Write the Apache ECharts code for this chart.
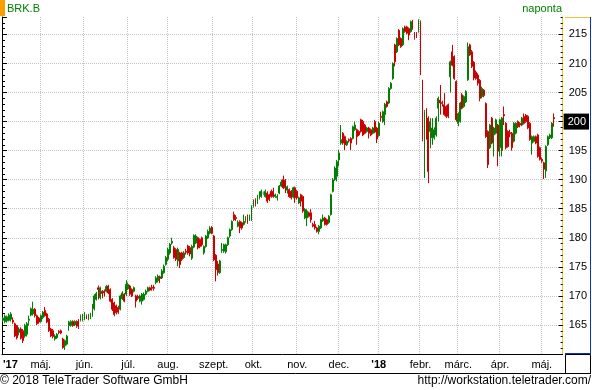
<!DOCTYPE html>
<html><head><meta charset="utf-8">
<script src="https://cdn.jsdelivr.net/npm/echarts@6/dist/echarts.min.js"></script>
<style>html,body{margin:0;padding:0;background:#fff}#c{width:592px;height:390px}</style>
</head><body><div id="c"></div>
<script>
// Daily OHLC, BRK.B, 3 Apr 2017 .. 9 May 2018 (one entry per trading day)
const opens = [
165.8,165.6,165.7,165.8,166.0,165.8,165.2,164.9,163.7,164.3,
164.0,163.1,163.4,165.8,166.7,166.9,167.7,166.6,166.2,165.6,
166.3,167.5,166.9,166.0,164.3,164.0,162.6,162.8,163.9,164.0,
162.6,161.4,161.7,164.9,164.9,165.6,165.0,165.6,165.8,165.8,
165.8,166.0,166.6,166.0,166.2,166.6,167.8,169.4,171.4,169.7,
170.8,170.8,170.8,171.7,171.1,169.4,168.8,168.3,168.0,167.7,
169.5,170.3,170.3,171.2,171.7,171.1,170.8,170.0,169.9,169.1,
169.1,169.4,170.3,170.8,171.4,171.5,171.5,172.3,172.6,173.3,
173.1,174.0,175.4,176.3,177.4,179.1,178.3,178.0,176.0,177.4,
177.4,176.6,177.7,178.6,178.3,176.5,178.4,179.1,180.0,179.7,
180.0,177.4,178.5,180.0,180.8,181.8,180.3,177.0,175.5,174.0,
177.8,177.7,177.6,178.8,180.3,181.4,184.0,183.5,182.0,182.8,
182.6,182.3,182.8,183.7,183.1,183.1,185.4,186.6,186.0,186.8,
187.1,187.7,187.1,187.7,187.4,188.0,188.0,187.1,186.9,187.7,
188.9,190.0,189.9,188.2,188.3,188.0,187.0,188.6,188.0,186.0,
187.4,187.1,183.4,183.4,184.3,184.3,182.3,182.3,181.7,181.1,
181.7,182.9,183.4,183.1,182.6,184.0,188.0,190.0,190.6,193.4,
196.3,198.0,197.4,196.0,196.9,197.1,197.1,198.6,198.6,198.3,
200.3,200.0,199.4,198.3,198.9,198.6,198.0,200.0,198.9,197.6,
200.9,200.0,201.2,203.4,203.2,205.7,207.4,213.2,212.0,215.7,
214.3,213.2,216.3,216.3,216.0,215.5,217.3,215.2,215.2,215.5,
217.2,205.4,193.1,202.0,200.6,198.3,197.2,197.2,197.7,202.3,
203.7,203.3,202.9,202.6,202.9,207.7,212.0,211.2,206.9,199.7,
200.0,204.6,202.6,203.4,207.2,213.2,212.0,210.2,208.5,208.0,
207.1,204.3,205.4,203.1,198.3,195.5,200.6,197.7,198.0,199.4,
195.5,195.0,201.2,199.7,198.3,198.1,198.0,196.6,198.0,200.0,
199.7,199.4,200.9,201.1,200.9,199.7,196.3,196.6,197.4,197.7,
195.5,193.5,192.9,191.5,196.0,197.2,197.2,200.7
];
const closes = [
166.2,166.5,166.4,166.7,166.9,165.5,163.1,162.8,164.3,162.7,
162.3,164.9,165.2,166.0,167.8,167.7,166.6,165.2,165.5,166.6,
167.2,166.6,165.5,164.0,163.1,163.0,163.1,163.4,163.7,163.6,
161.1,162.3,163.1,165.5,165.6,164.9,165.6,164.8,164.6,166.6,
166.7,166.9,166.2,166.7,166.9,168.4,170.0,170.4,171.1,171.4,
170.4,170.5,171.6,170.5,169.1,167.7,166.8,167.1,167.2,170.0,
170.5,169.1,172.0,172.0,170.3,170.0,171.4,169.1,169.6,170.0,
170.3,170.3,170.8,171.4,171.0,171.3,171.3,173.1,173.4,173.0,
174.3,175.1,176.6,178.0,178.9,179.4,176.6,176.3,178.0,175.4,
176.3,177.4,177.5,177.4,177.2,178.5,180.4,180.3,178.3,178.5,
178.8,178.5,180.3,181.1,181.7,180.8,176.2,174.5,174.0,176.0,
178.0,178.8,178.8,180.0,181.4,182.8,183.1,183.3,182.7,181.7,
181.7,182.8,183.4,182.6,183.7,185.4,186.3,185.7,187.1,187.7,
188.0,187.7,188.0,186.3,186.6,187.1,187.1,187.4,187.1,188.9,
189.6,188.6,188.6,188.8,187.1,186.9,188.6,186.9,186.9,186.9,
186.3,184.6,184.9,184.6,183.7,183.1,182.0,181.7,181.1,182.0,
183.1,183.4,182.3,182.3,183.7,187.4,190.0,192.0,193.1,194.6,
196.9,196.3,196.0,196.6,196.7,196.3,199.1,199.4,197.4,197.7,
198.3,197.7,198.0,198.9,198.0,197.7,198.9,198.2,197.0,199.7,
200.7,201.7,203.0,202.6,205.7,206.6,210.0,210.3,214.3,213.2,
212.9,216.0,215.5,215.2,214.9,217.2,216.0,214.3,214.6,217.3,
209.2,196.9,201.7,197.2,191.4,200.0,198.9,198.6,200.6,204.0,
203.2,203.1,201.2,200.9,200.9,210.3,209.7,207.4,200.3,201.4,
203.2,202.3,204.3,205.2,212.9,211.5,209.5,207.5,207.4,206.6,
204.0,205.7,204.5,197.4,192.6,199.4,196.3,198.9,200.3,194.9,
200.3,200.6,201.0,195.5,195.7,197.9,195.5,199.7,199.7,199.1,
199.4,200.6,199.7,200.0,198.9,196.9,197.4,197.4,196.3,194.0,
193.5,193.2,191.8,195.7,197.4,197.7,199.7,200.5
];
const lows = [
165.5,165.3,165.4,165.6,165.6,165.2,162.9,162.5,163.2,162.5,
161.9,162.8,163.0,164.9,166.5,166.6,166.3,165.0,165.2,165.4,
166.0,166.4,165.3,163.8,162.9,162.7,162.3,162.6,163.4,163.4,
160.9,160.7,161.5,164.0,164.7,164.7,164.8,164.5,164.3,165.6,
165.6,165.8,166.0,165.8,166.0,166.4,167.5,169.2,169.4,169.4,
169.6,169.9,170.6,170.3,168.9,167.4,166.5,166.8,166.9,167.5,
169.3,168.9,170.0,171.0,170.0,169.8,170.6,168.0,169.3,168.9,
168.5,169.2,170.1,170.6,170.8,170.9,170.9,172.0,172.3,172.2,
172.9,173.8,175.2,176.0,177.1,178.8,176.4,176.0,175.1,174.8,
176.0,176.4,177.1,177.1,176.8,176.2,178.2,178.9,178.0,178.2,
178.5,177.1,178.3,179.8,180.6,180.6,176.0,172.5,173.5,173.8,
177.4,177.4,177.3,178.6,180.0,181.2,182.9,182.9,181.8,180.8,
181.4,182.1,182.6,182.4,182.9,182.9,185.2,185.4,185.8,186.6,
186.9,187.3,186.9,186.0,186.3,186.9,186.9,186.9,186.4,187.5,
188.7,188.4,187.7,187.6,186.9,186.6,186.8,186.0,186.6,185.8,
185.4,184.3,183.2,182.0,183.5,182.6,181.8,181.4,180.9,180.6,
181.5,182.7,182.1,182.1,182.4,183.8,187.8,189.8,189.7,192.3,
196.0,196.0,195.1,195.8,196.4,195.1,196.9,198.4,196.0,197.5,
198.1,197.5,197.8,198.1,197.1,197.5,197.8,198.0,196.3,197.4,
200.0,199.8,199.4,202.4,203.0,205.5,207.2,209.5,211.8,213.0,
212.7,213.0,215.3,215.0,214.0,215.3,215.8,214.1,214.4,215.3,
208.0,196.6,190.3,196.9,189.4,195.4,196.0,196.9,197.4,200.0,
201.2,202.6,201.0,200.6,200.6,205.0,209.5,207.2,200.0,199.2,
199.8,202.1,202.4,203.2,207.0,211.3,209.2,207.1,207.2,206.2,
203.5,204.0,204.2,197.2,192.0,195.3,196.1,194.0,197.8,192.3,
194.0,194.0,199.4,195.2,195.5,197.3,195.0,196.4,197.8,198.9,
199.0,199.2,199.5,199.8,198.7,196.7,194.3,196.4,196.1,193.8,
193.3,192.9,190.1,190.3,195.8,197.0,197.0,199.1
];
const highs = [
166.4,166.8,166.6,167.0,167.2,166.3,165.4,165.0,164.6,164.6,
164.3,165.2,165.5,166.6,168.0,169.0,167.9,166.8,166.4,166.8,
167.4,168.1,167.1,166.2,164.5,164.3,163.4,163.6,164.1,164.2,
162.8,162.5,163.3,165.7,165.8,165.8,165.8,165.8,166.0,166.8,
166.9,167.2,166.8,166.9,167.1,168.6,170.3,170.7,171.8,171.6,
171.0,171.1,171.9,171.9,171.3,169.6,169.0,168.5,168.3,170.2,
170.8,170.5,172.7,172.3,171.9,171.3,171.6,170.2,170.2,170.2,
170.5,170.6,171.1,171.6,171.6,171.9,171.9,173.4,173.7,173.5,
174.6,175.4,176.9,178.3,179.1,180.0,178.6,178.2,178.3,177.6,
177.6,177.7,178.1,178.8,178.6,178.8,180.6,180.6,180.2,179.9,
180.2,178.7,180.5,181.4,182.0,182.0,180.5,177.2,176.0,176.2,
179.1,179.0,179.0,180.2,181.6,183.0,184.5,183.9,183.0,183.0,
182.8,184.0,183.7,184.0,184.0,185.6,186.6,186.8,187.4,188.0,
188.3,188.0,188.3,188.0,187.6,188.3,188.6,187.6,187.5,189.1,
190.0,190.7,190.1,189.0,188.5,188.2,188.8,188.8,188.2,187.1,
187.6,187.3,185.1,184.9,184.5,184.9,182.6,182.9,181.9,182.2,
183.3,184.0,183.6,183.3,183.9,187.6,190.3,192.3,193.4,195.1,
199.4,198.2,197.6,196.8,197.1,197.3,199.3,200.0,198.8,198.5,
200.5,200.3,199.6,199.1,199.1,198.8,199.1,200.3,199.1,200.0,
201.7,201.9,203.2,203.6,205.9,206.8,210.2,213.4,214.5,215.9,
214.5,216.2,216.5,216.5,216.2,217.4,217.5,215.4,215.4,217.6,
217.4,207.2,202.0,202.3,200.9,200.6,200.6,199.0,200.9,204.3,
206.3,203.6,204.9,202.8,203.1,210.5,213.2,211.4,207.1,201.6,
203.4,204.9,204.5,205.4,213.6,213.4,212.3,210.4,208.8,208.3,
207.3,206.0,205.6,203.3,198.5,199.6,200.8,199.1,200.5,199.6,
200.5,200.8,202.6,199.9,198.5,198.6,198.2,199.9,199.9,200.2,
199.9,200.8,201.4,201.3,201.1,199.9,197.6,197.6,197.6,197.9,
195.7,193.8,193.1,195.9,197.6,197.9,199.9,201.4
];
// x axis: trading-day slots; month starts (slot index) and their labels
const slotCount = 282;
const monthIdx   = [0, 19, 41, 63, 83, 106, 126, 148, 169, 189, 210, 229, 250, 271];
const monthNames = ["'17","máj.","jún.","júl.","aug.","szept.","okt.","nov.","dec.","'18","febr.","márc.","ápr.","máj."];
const yearLabels = ["'17", "'18"];
const lastPriceTick = 200;

const categories = Array.from({length: slotCount}, (_, i) => String(i));
const FONT = '"Liberation Sans", Arial, sans-serif';
const data = opens.map((o, i) => [o, closes[i], Math.min(lows[i], o, closes[i]), Math.max(highs[i], o, closes[i])]);
const labelAt = {};
monthIdx.forEach((k, j) => { labelAt[k] = monthNames[j]; });
const gridIdx = new Set(monthIdx.filter(k => k > 0));
const grid = {left: 1, top: 17, width: 564, height: 337};
const dotted = {color: '#c4c4c4', width: 1, type: [1, 1]};

const chart = echarts.init(document.getElementById('c'), null, {renderer: 'canvas'});
chart.setOption({
  animation: false,
  backgroundColor: '#fff',
  grid: grid,
  xAxis: {
    type: 'category', data: categories, boundaryGap: true,
    axisLine: {show: true, lineStyle: {color: '#000', width: 1}},
    axisTick: {show: false},
    axisLabel: {
      interval: (i) => labelAt[i] !== undefined,
      showMinLabel: true, alignMinLabel: 'left',
      formatter: (v, i) => {
        const t = labelAt[i];
        if (t === undefined) return '';
        return yearLabels.includes(t) ? '{y|' + t + '}' : t;
      },
      margin: 5, fontSize: 11, color: '#000', fontFamily: FONT,
      rich: {y: {fontWeight: 'bold', fontSize: 11, color: '#000', fontFamily: FONT}}
    },
    splitLine: {show: true, interval: (i) => gridIdx.has(i), lineStyle: dotted}
  },
  yAxis: [
    {type: 'value', position: 'right', min: 160, max: 218, interval: 5,
     axisLine: {show: true, lineStyle: {color: '#f2c12e', width: 1}},
     axisTick: {show: true, inside: true, length: 4, lineStyle: {color: '#000'}},
     axisLabel: {showMinLabel: false, showMaxLabel: false, margin: 1,
       formatter: (v) => v === lastPriceTick ? '{hl|' + v + '}' : '{n|' + v + '}',
       rich: {
         n: {fontSize: 11, color: '#000', fontFamily: FONT, padding: [0, 0, 0, 5]},
         hl: {fontSize: 11, color: '#fff', backgroundColor: '#000', fontFamily: FONT, padding: [3, 3, 2, 4]}
       }},
     splitLine: {show: true, showMinLine: false, showMaxLine: false, lineStyle: dotted}},
    {type: 'value', position: 'right', min: 160, max: 218, interval: 1,
     axisLine: {show: false}, axisTick: {show: true, inside: true, length: 2, lineStyle: {color: '#000'}},
     axisLabel: {show: false}, splitLine: {show: false}},
    {type: 'value', position: 'left', min: 160, max: 218, interval: 5,
     axisLine: {show: true, lineStyle: {color: '#000'}},
     axisTick: {show: true, inside: true, length: 5, lineStyle: {color: '#000'}},
     axisLabel: {show: false}, splitLine: {show: false}},
    {type: 'value', position: 'left', min: 160, max: 218, interval: 1,
     axisLine: {show: false}, axisTick: {show: true, inside: true, length: 3, lineStyle: {color: '#000'}},
     axisLabel: {show: false}, splitLine: {show: false}}
  ],
  series: [{
    type: 'candlestick', data: data, barWidth: 1.4, xAxisIndex: 0, yAxisIndex: 0,
    itemStyle: {color: '#008000', color0: '#cc0000', borderColor: '#008000', borderColor0: '#cc0000',
                borderColorDoji: '#8c8c8c', borderWidth: 1}
  }],
  graphic: [
    {type: 'rect', shape: {x: 0, y: 0, width: 5, height: 16}, style: {fill: '#f7a000'}},
    {type: 'text', x: 7, y: 3, style: {text: 'BRK.B', fill: '#008000', font: '11px ' + FONT}},
    {type: 'text', x: 562, y: 3, style: {text: 'naponta', fill: '#008000', font: '11px ' + FONT, textAlign: 'right'}},
    {type: 'line', shape: {x1: 565, y1: 17.5, x2: 590, y2: 17.5}, style: {stroke: '#f2c12e', lineWidth: 1}},
    {type: 'line', shape: {x1: 590.5, y1: 17, x2: 590.5, y2: 354}, style: {stroke: '#1030c0', lineWidth: 1}},
    {type: 'line', shape: {x1: 565, y1: 353.5, x2: 591, y2: 353.5}, style: {stroke: '#1030c0', lineWidth: 1}},
    {type: 'rect', shape: {x: 565.5, y: 354.5, width: 25, height: 19}, style: {fill: 'none', stroke: '#000', lineWidth: 1}},
    {type: 'line', shape: {x1: 0, y1: 373.5, x2: 591, y2: 373.5}, style: {stroke: '#000', lineWidth: 1}},
    {type: 'text', x: 0, y: 375, style: {text: '© 2018 TeleTrader Software GmbH', fill: '#000', font: '12px ' + FONT}},
    {type: 'text', x: 591, y: 375, style: {text: 'http://workstation.teletrader.com/', fill: '#000', font: '12px ' + FONT, textAlign: 'right'}}
  ]
});
</script></body></html>
